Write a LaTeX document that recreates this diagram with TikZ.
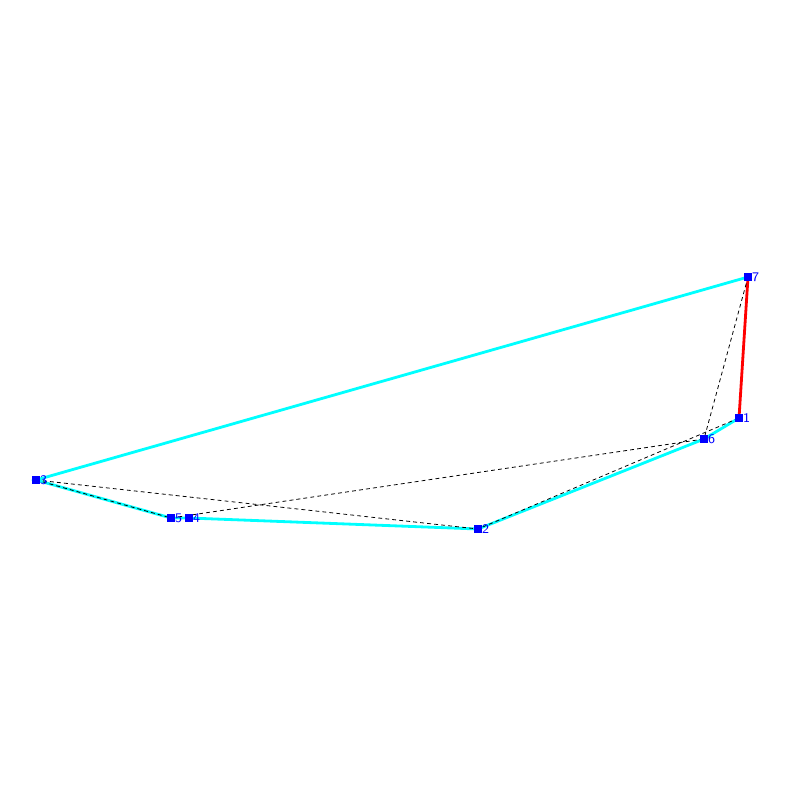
\documentclass[tikz,border=0pt]{standalone}
\usetikzlibrary{backgrounds}
\definecolor{tourcyan}{RGB}{0,255,255}
\definecolor{ptblue}{RGB}{0,0,255}
\definecolor{bestred}{RGB}{255,0,0}
\tikzset{
  pt/.style={fill=ptblue, inner sep=0pt, minimum size=4.4pt, label={[font=\sffamily\fontsize{7.5}{8}\selectfont, text=ptblue, inner sep=0.5pt, xshift=-0.8pt]right:#1}},
  tour/.style={tourcyan, line width=1.6pt},
  best/.style={bestred, line width=1.6pt},
  guess/.style={black, line width=0.45pt, dash pattern=on 2.2pt off 1.8pt}
}
\begin{document}
\begin{tikzpicture}[x=0.02cm, y=-0.02cm]
    % page
    \useasboundingbox (0,0) rectangle (800,800);
    % points
    \node[pt=1] (p1) at (739,418) {};
    \node[pt=2] (p2) at (478,529) {};
    \node[pt=3] (p3) at (36,480) {};
    \node[pt=4] (p4) at (189,518) {};
    \node[pt=5] (p5) at (171,518) {};
    \node[pt=6] (p6) at (704,439) {};
    \node[pt=7] (p7) at (748,277) {};
    \begin{scope}[on background layer]
      % tour
      \draw[tour] (p7.center) -- (p3.center) -- (p5.center) -- (p4.center) -- (p2.center) -- (p6.center) -- (p1.center);
      \draw[best] (p1.center) -- (p7.center);
      % dashed
      \draw[guess] (p3.center) -- (p2.center) -- (p1.center);
      \draw[guess] (p3.center) -- (p5.center) -- (p6.center) -- (p7.center);
    \end{scope}
\end{tikzpicture}
\end{document}
